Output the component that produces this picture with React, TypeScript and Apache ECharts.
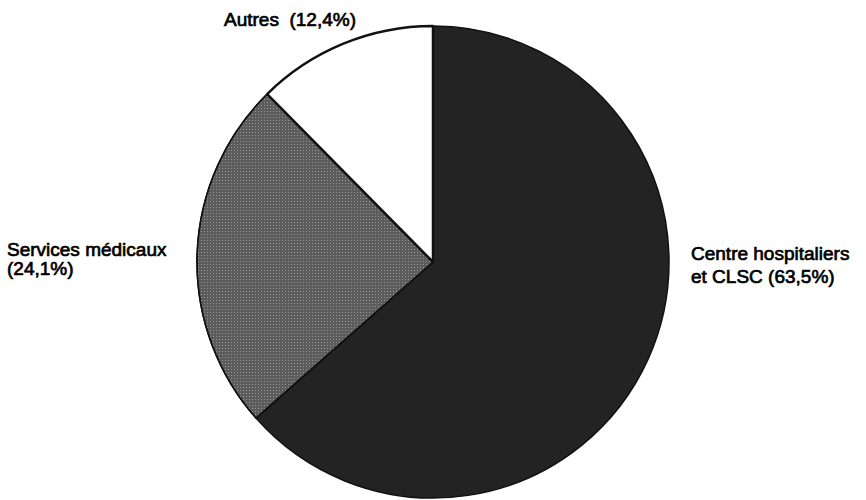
import React, { useEffect, useRef } from "react";
import * as echarts from "echarts";

const categories = ["Centre hospitaliers\net CLSC", "Services médicaux", "Autres"];
const values = [63.5, 24.1, 12.4];
const separators = [" ", "\n", "  "];
const colors = ["#232323", "#5c5c5c", "#ffffff"];

export default function App() {
  const ref = useRef<HTMLDivElement>(null);
  useEffect(() => {
    document.body.style.margin = "0";
    const chart = echarts.init(ref.current!, null, { renderer: "svg" });
    const labelPos = [
      { x: 691, y: 265, align: "left", lh: 23 },
      { x: 7, y: 259, align: "left", lh: 19 },
      { x: 224, y: 19, align: "left", lh: 20 },
    ];
    chart.setOption({
      animation: false,
      backgroundColor: "#ffffff",
      series: [
        {
          type: "pie",
          center: [433, 262],
          radius: 236,
          startAngle: 90,
          clockwise: true,
          avoidLabelOverlap: false,
          labelLine: { show: false },
          label: {
            show: true,
            position: "outside",
            color: "#000",
            fontFamily: "'Liberation Sans', Arial, sans-serif",
            fontSize: 19,
            lineHeight: 21,
            textBorderColor: "#000",
            textBorderWidth: 0.7,
            formatter: (p: any) =>
              `${p.name}${separators[p.dataIndex]}(${p.value.toFixed(1).replace(".", ",")}%)`,
          },
          labelLayout: (p: any) => ({
            x: labelPos[p.dataIndex].x,
            y: labelPos[p.dataIndex].y,
            align: labelPos[p.dataIndex].align,
            verticalAlign: "middle",
          }),
          emphasis: { disabled: true },
          data: categories.map((name, i) => ({
            name,
            value: values[i],
            label: { lineHeight: labelPos[i].lh },
            itemStyle: {
              color: colors[i],
              borderColor: "#111",
              borderWidth: i === 2 ? 2.5 : 1.5,
              decal:
                i === 1
                  ? {
                      symbol: "rect",
                      symbolSize: 1,
                      color: "rgba(255,255,255,0.35)",
                      dashArrayX: [1, 2],
                      dashArrayY: [1, 2],
                      rotation: 0,
                    }
                  : "none",
            },
          })),
        },
      ],
    });
    return () => chart.dispose();
  }, []);
  return <div ref={ref} style={{ width: 866, height: 500 }} />;
}
